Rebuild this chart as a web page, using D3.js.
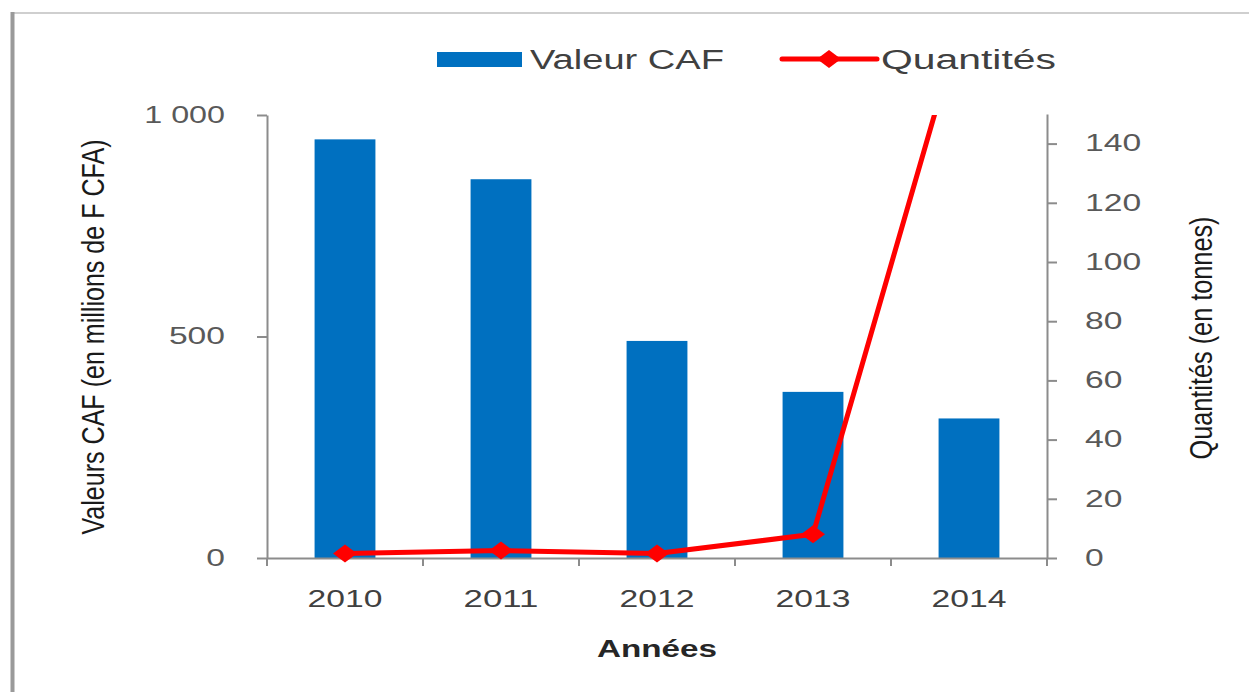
<!DOCTYPE html>
<html>
<head>
<meta charset="utf-8">
<script src="https://cdn.jsdelivr.net/npm/d3@7"></script>
<style>
  body { margin: 0; background: #fff; }
  svg text { font-family: "Liberation Sans", Arial, sans-serif; }
</style>
</head>
<body>
<script>
'use strict';

// chart data
const years = ['2010', '2011', '2012', '2013', '2014'];
const valeurCAF = [945, 855, 490, 375, 315];      // millions de F CFA
const quantites = [1.5, 2.5, 1.5, 8, 190];        // tonnes (2014 goes off the top)
const leftTicks = [0, 500, 1000];
const rightTicks = [0, 20, 40, 60, 80, 100, 120, 140];

const W = 1249, H = 692;
const plot = { left: 267, right: 1047, top: 115, bottom: 558 };
const stretch = 1.4; // picture is widened horizontally

let svg = d3.select('body').append('svg')
  .attr('width', W)
  .attr('height', H);

// frame
svg.append('line')
  .attr('x1', 12).attr('x2', W).attr('y1', 13).attr('y2', 13)
  .attr('stroke', '#cfcfcf').attr('stroke-width', 2);
svg.append('line')
  .attr('x1', 12.5).attr('x2', 12.5).attr('y1', 12).attr('y2', H)
  .attr('stroke', '#9a9a9a').attr('stroke-width', 4);

// scales
let x = d3.scaleBand()
  .domain(years)
  .range([plot.left, plot.right])
  .paddingInner(0.61)
  .paddingOuter(0.305);

let yL = d3.scaleLinear().domain([0, 1000]).range([plot.bottom, plot.top]);
let yR = d3.scaleLinear().domain([0, 150]).range([plot.bottom, plot.top - 1]);

const fr = d3.formatLocale({ decimal: ',', thousands: ' ', grouping: [3], currency: ['', ' F'] });
const fmtL = fr.format(',d');

// width of a stretched tick label
function labelLen(s) {
  let n = 0;
  for (const c of s) n += (c === ' ' ? 6 : 18.7);
  return n;
}

// bars
svg.selectAll('.bar')
  .data(years)
  .enter()
  .append('rect')
    .attr('class', 'bar')
    .attr('x', (d) => x(d))
    .attr('y', (d, i) => yL(valeurCAF[i]))
    .attr('width', x.bandwidth())
    .attr('height', (d, i) => yL(0) - yL(valeurCAF[i]))
    .attr('fill', '#0070c0');

// axes
const axisColor = '#8c8c8c';

let gL = svg.append('g')
  .attr('transform', `translate(${plot.left},0)`)
  .call(d3.axisLeft(yL).tickValues(leftTicks).tickSize(10).tickSizeOuter(0).tickPadding(32).tickFormat(fmtL));

let gR = svg.append('g')
  .attr('transform', `translate(${plot.right},0)`)
  .call(d3.axisRight(yR).tickValues(rightTicks).tickSize(10).tickSizeOuter(0).tickPadding(28));

let gX = svg.append('g')
  .attr('transform', `translate(0,${plot.bottom})`)
  .call(d3.axisBottom(x).tickSize(0).tickSizeOuter(0).tickPadding(33));

// category boundary ticks
const edges = d3.range(years.length + 1).map((i) => x.range()[0] + i * x.step());
gX.selectAll('.edge')
  .data(edges)
  .enter()
  .append('line')
    .attr('class', 'edge')
    .attr('x1', (d) => d).attr('x2', (d) => d)
    .attr('y1', 0).attr('y2', 8);

// right axis domain continues a little below zero
gR.append('line').attr('class', 'edge').attr('x1', 0).attr('x2', 0).attr('y1', yR(0)).attr('y2', yR(0) + 6);

[gL, gR, gX].forEach((g) => {
  g.selectAll('.domain, line').attr('stroke', axisColor).attr('stroke-width', 2);
  g.selectAll('text')
    .attr('font-size', 23)
    .attr('fill', '#595959')
    .attr('font-family', '"Liberation Sans", Arial, sans-serif')
    .attr('textLength', function() { return labelLen(this.textContent); })
    .attr('lengthAdjust', 'spacingAndGlyphs');
});
gX.selectAll('text').attr('fill', '#404040');

// red line, clipped to the plot area
svg.append('clipPath')
  .attr('id', 'plotClip')
  .append('rect')
    .attr('x', plot.left - 20)
    .attr('y', plot.top)
    .attr('width', plot.right - plot.left + 40)
    .attr('height', plot.bottom - plot.top + 30);

let line = d3.line()
  .x((d, i) => x(years[i]) + x.bandwidth() / 2)
  .y((d) => yR(d));

let lineG = svg.append('g').attr('clip-path', 'url(#plotClip)');

lineG.append('path')
  .datum(quantites)
  .attr('d', line)
  .attr('fill', 'none')
  .attr('stroke', '#ff0000')
  .attr('stroke-width', 5)
  .attr('stroke-linejoin', 'round');

const diamond = 'M0,-9L12,0L0,9L-12,0Z';
lineG.selectAll('.marker')
  .data(quantites)
  .enter()
  .append('path')
    .attr('class', 'marker')
    .attr('d', diamond)
    .attr('transform', (d, i) => `translate(${x(years[i]) + x.bandwidth() / 2},${yR(d)})`)
    .attr('fill', '#ff0000');

// legend
svg.append('rect')
  .attr('x', 437).attr('y', 52)
  .attr('width', 85).attr('height', 15)
  .attr('fill', '#0070c0');
svg.append('text')
  .attr('x', 530).attr('y', 69)
  .attr('font-size', 27)
  .attr('fill', '#404040')
  .attr('textLength', 194)
  .attr('lengthAdjust', 'spacingAndGlyphs')
  .text('Valeur CAF');

svg.append('line')
  .attr('x1', 782).attr('x2', 877).attr('y1', 59).attr('y2', 59)
  .attr('stroke', '#ff0000').attr('stroke-width', 5).attr('stroke-linecap', 'round');
svg.append('path')
  .attr('d', diamond)
  .attr('transform', 'translate(829,59)')
  .attr('fill', '#ff0000');
svg.append('text')
  .attr('x', 881).attr('y', 69)
  .attr('font-size', 27)
  .attr('fill', '#404040')
  .attr('textLength', 175)
  .attr('lengthAdjust', 'spacingAndGlyphs')
  .text('Quantités');

// axis titles
svg.append('text')
  .attr('transform', `translate(104,337) scale(${stretch},1) rotate(-90)`)
  .attr('text-anchor', 'middle')
  .attr('font-size', 22)
  .attr('fill', '#1a1a1a')
  .attr('textLength', 395)
  .attr('lengthAdjust', 'spacingAndGlyphs')
  .text('Valeurs CAF (en millions de F CFA)');

svg.append('text')
  .attr('transform', `translate(1212,338) scale(${stretch},1) rotate(-90)`)
  .attr('text-anchor', 'middle')
  .attr('font-size', 23)
  .attr('fill', '#1a1a1a')
  .attr('textLength', 243)
  .attr('lengthAdjust', 'spacingAndGlyphs')
  .text('Quantités (en tonnes)');

svg.append('text')
  .attr('x', 657).attr('y', 657)
  .attr('text-anchor', 'middle')
  .attr('font-size', 23)
  .attr('font-weight', 'bold')
  .attr('fill', '#262626')
  .attr('textLength', 120)
  .attr('lengthAdjust', 'spacingAndGlyphs')
  .text('Années');
</script>
</body>
</html>
